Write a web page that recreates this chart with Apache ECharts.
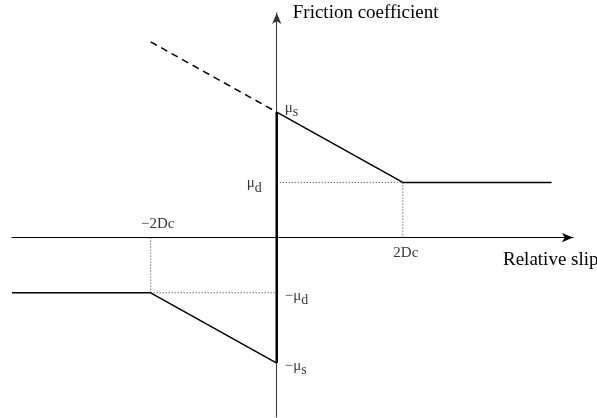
<!DOCTYPE html>
<html>
	<head>
		<meta charset="UTF-8">
		<script src="https://cdn.jsdelivr.net/npm/echarts@6/dist/echarts.min.js"></script>
		<style>
			html, body { margin: 0; padding: 0; background: #fff; }
			#main { width: 597px; height: 418px; }
		</style>
	</head>
	<body>
		<div id="main"></div>
		<script type="text/javascript">
			// slip-weakening law, slip in units of 2Dc, friction in units of mu_s
			var muS = 1, muD = 0.44, twoDc = 1;
			// positive slip branch
			var posX = [0, 1, 2.18];
			var posY = [1, 0.44, 0.44];
			// negative slip branch
			var negX = [-2.1, -1, 0];
			var negY = [-0.44, -0.44, -1];
			// dashed extrapolation
			var extX = [-1, 0];
			var extY = [1.56, 1];
			// stick segment on the vertical axis
			var stickY = [1, -1];
			// tick labels
			var yTickVals = [muS, muD, -muD, -muS];
			var yTickText = ['{m|μ}{s|s}', '{m|μ}{s|d}', '{m|−μ}{s|d}', '{m|−μ}{s|s}'];
			var xTickVals = [-twoDc, twoDc];
			var xTickText = ['−2Dc', '2Dc'];

			var serif = 'Liberation Serif';
			var black = '#000';

			function zip(xs, ys) {
				var out = [];
				for (var i = 0; i < xs.length; i++) out.push([xs[i], ys[i]]);
				return out;
			}

			function lineSeries(data, width, type, color) {
				return {
					type: 'line',
					data: data,
					symbol: 'none',
					silent: true,
					animation: false,
					lineStyle: { color: color || black, width: width, type: type || 'solid' },
					z: 3
				};
			}

			var richStyle = {
				m: { fontFamily: serif, fontSize: 15, color: black },
				s: { fontFamily: serif, fontSize: 14, color: black, padding: [9, 0, 0, 0] }
			};

			var series = [
				lineSeries(zip(posX, posY), 1.5),
				lineSeries(zip(negX, negY), 1.5),
				lineSeries(zip(extX, extY), 1.5, [7, 5]),
				lineSeries(zip([0, 0], stickY), 2.5),
				// dotted guides
				lineSeries([[0, muD], [twoDc, muD]], 1, [1, 2], '#333'),
				lineSeries([[twoDc, 0], [twoDc, muD]], 1, [1, 2], '#333'),
				lineSeries([[-twoDc, 0], [-twoDc, -muD]], 1, [1, 2], '#333'),
				lineSeries([[-twoDc, -muD], [0, -muD]], 1, [1, 2], '#333')
			];

			// y labels (mu values) on the vertical axis
			var yOffsets = [[8, -4], [-15, 1], [8, 3], [8, 3]];
			var yAligns = ['left', 'right', 'left', 'left'];
			var yLabelData = yTickVals.map(function(v, i) {
				return {
					value: [0, v],
					label: {
						show: true,
						formatter: yTickText[i],
						position: 'inside',
						align: yAligns[i],
						verticalAlign: 'middle',
						offset: yOffsets[i],
						rich: richStyle
					}
				};
			});
			var xOffsets = [[7, -14], [3, 15]];
			var xLabelData = xTickVals.map(function(v, i) {
				return {
					value: [v, 0],
					label: {
						show: true,
						formatter: xTickText[i],
						position: 'inside',
						align: 'center',
						verticalAlign: 'middle',
						offset: xOffsets[i],
						fontFamily: serif,
						fontSize: 15,
						color: black
					}
				};
			});
			series.push({
				type: 'scatter',
				symbolSize: 0,
				silent: true,
				animation: false,
				data: yLabelData.concat(xLabelData),
				z: 5
			});

			var chart = echarts.init(document.getElementById('main'));
			chart.setOption({
				backgroundColor: '#fff',
				animation: false,
				grid: { left: 12, right: 24, top: 13, bottom: 1, containLabel: false, outerBoundsMode: 'none' },
				xAxis: {
					type: 'value',
					min: -2.1,
					max: 2.35,
					name: 'Relative slip',
					nameLocation: 'end',
					nameGap: -70,
					nameTextStyle: {
						fontFamily: serif, fontSize: 19, color: black,
						align: 'left', verticalAlign: 'top', padding: [13, 0, 0, 0]
					},
					axisLine: {
						onZero: true,
						symbol: ['none', 'arrow'],
						symbolSize: [7, 11],
						lineStyle: { color: black, width: 1.2 }
					},
					axisTick: { show: false },
					axisLabel: { show: false },
					splitLine: { show: false }
				},
				yAxis: {
					type: 'value',
					min: -1.43,
					max: 1.79,
					name: 'Friction coefficient',
					nameLocation: 'end',
					nameGap: 0,
					nameTextStyle: {
						fontFamily: serif, fontSize: 19, color: black,
						align: 'left', verticalAlign: 'middle', padding: [0, 0, 0, 16]
					},
					axisLine: {
						onZero: true,
						symbol: ['none', 'arrow'],
						symbolSize: [7, 11],
						lineStyle: { color: '#333', width: 1 }
					},
					axisTick: { show: false },
					axisLabel: { show: false },
					splitLine: { show: false }
				},
				series: series
			});
		</script>
	</body>
</html>
